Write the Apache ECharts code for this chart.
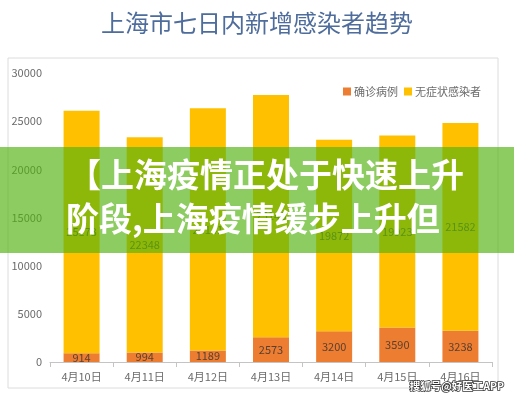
<!DOCTYPE html>
<html><head><meta charset="utf-8">
<script src="https://cdn.jsdelivr.net/npm/echarts@6/dist/echarts.min.js"></script>
<style>html,body{margin:0;padding:0;background:#fff}#c{width:514px;height:400px}</style>
</head><body><div id="c"></div>
<script>
const categories = ['4月10日','4月11日','4月12日','4月13日','4月14日','4月15日','4月16日'];
const confirmed = [914, 994, 1189, 2573, 3200, 3590, 3238];
const asymptomatic = [25173, 22348, 25141, 25146, 19872, 19923, 21582];
const seriesNames = ['确诊病例', '无症状感染者'];
const titleText = '上海市七日内新增感染者趋势';
const bannerLines = ['【上海疫情正处于快速上升', '阶段,上海疫情缓步上升但'];
const watermark = '搜狐号@好医工APP';

const font = '"Noto Sans CJK SC", "Noto Sans", sans-serif';
const chart = echarts.init(document.getElementById('c'), null, {renderer: 'canvas'});
chart.setOption({
  backgroundColor: '#fff',
  animation: false,
  title: {
    text: titleText, left: 'center', top: 6,
    textStyle: {fontFamily: font, fontSize: 24, fontWeight: 'normal', color: '#4f6d9c'}
  },
  legend: {
    right: 28, top: 81, itemWidth: 8, itemHeight: 8, itemGap: 6, icon: 'rect',
    textStyle: {fontFamily: font, fontSize: 11, color: '#6b6b6b', padding: [0,0,0,-2]},
    data: seriesNames
  },
  grid: {left: 50, right: 22, top: 73, bottom: 38},
  xAxis: {
    type: 'category', data: categories,
    axisLine: {lineStyle: {color: '#c4c4c4'}},
    axisTick: {show: true, length: 5, lineStyle: {color: '#c4c4c4'}},
    axisLabel: {fontFamily: font, fontSize: 11, color: '#6b6b6b', margin: 9}
  },
  yAxis: {
    type: 'value', min: 0, max: 30000, interval: 5000,
    axisLine: {show: false}, axisTick: {show: false}, splitLine: {show: false},
    axisLabel: {fontFamily: font, fontSize: 11, color: '#6b6b6b', margin: 8, formatter: v => String(v)}
  },
  series: [
    {name: seriesNames[0], type: 'bar', stack: 'a', barWidth: 36, data: confirmed,
     itemStyle: {color: '#ed7d31'},
     label: {show: true, position: 'inside', color: '#5a4030', fontSize: 11, fontFamily: font}},
    {name: seriesNames[1], type: 'bar', stack: 'a', barWidth: 36, data: asymptomatic,
     itemStyle: {color: '#ffc000'},
     label: {show: true, position: 'inside', color: '#6b5a20', fontSize: 11, fontFamily: font}}
  ],
  graphic: [
    {type: 'rect', z: -1, silent: true, shape: {x: 8, y: 58, width: 490, height: 330},
     style: {fill: 'none', stroke: '#dcdcdc', lineWidth: 1}},
    {type: 'rect', z: 100, silent: true, shape: {x: 0, y: 147, width: 514, height: 106},
     style: {fill: 'rgba(82,178,14,0.66)'}},
    {type: 'text', z: 101, silent: true, left: 68, top: 158,
     style: {text: bannerLines[0], fill: '#fff', font: 'bold 33px ' + font}},
    {type: 'text', z: 101, silent: true, left: 66, top: 202,
     style: {text: bannerLines[1], fill: '#fff', font: 'bold 33px ' + font}},
    {type: 'text', z: 101, silent: true, left: 409, top: 380,
     style: {text: watermark, fill: '#fff', stroke: '#333', lineWidth: 1.5, font: 'bold 10.5px ' + font}}
  ]
});
</script></body></html>
